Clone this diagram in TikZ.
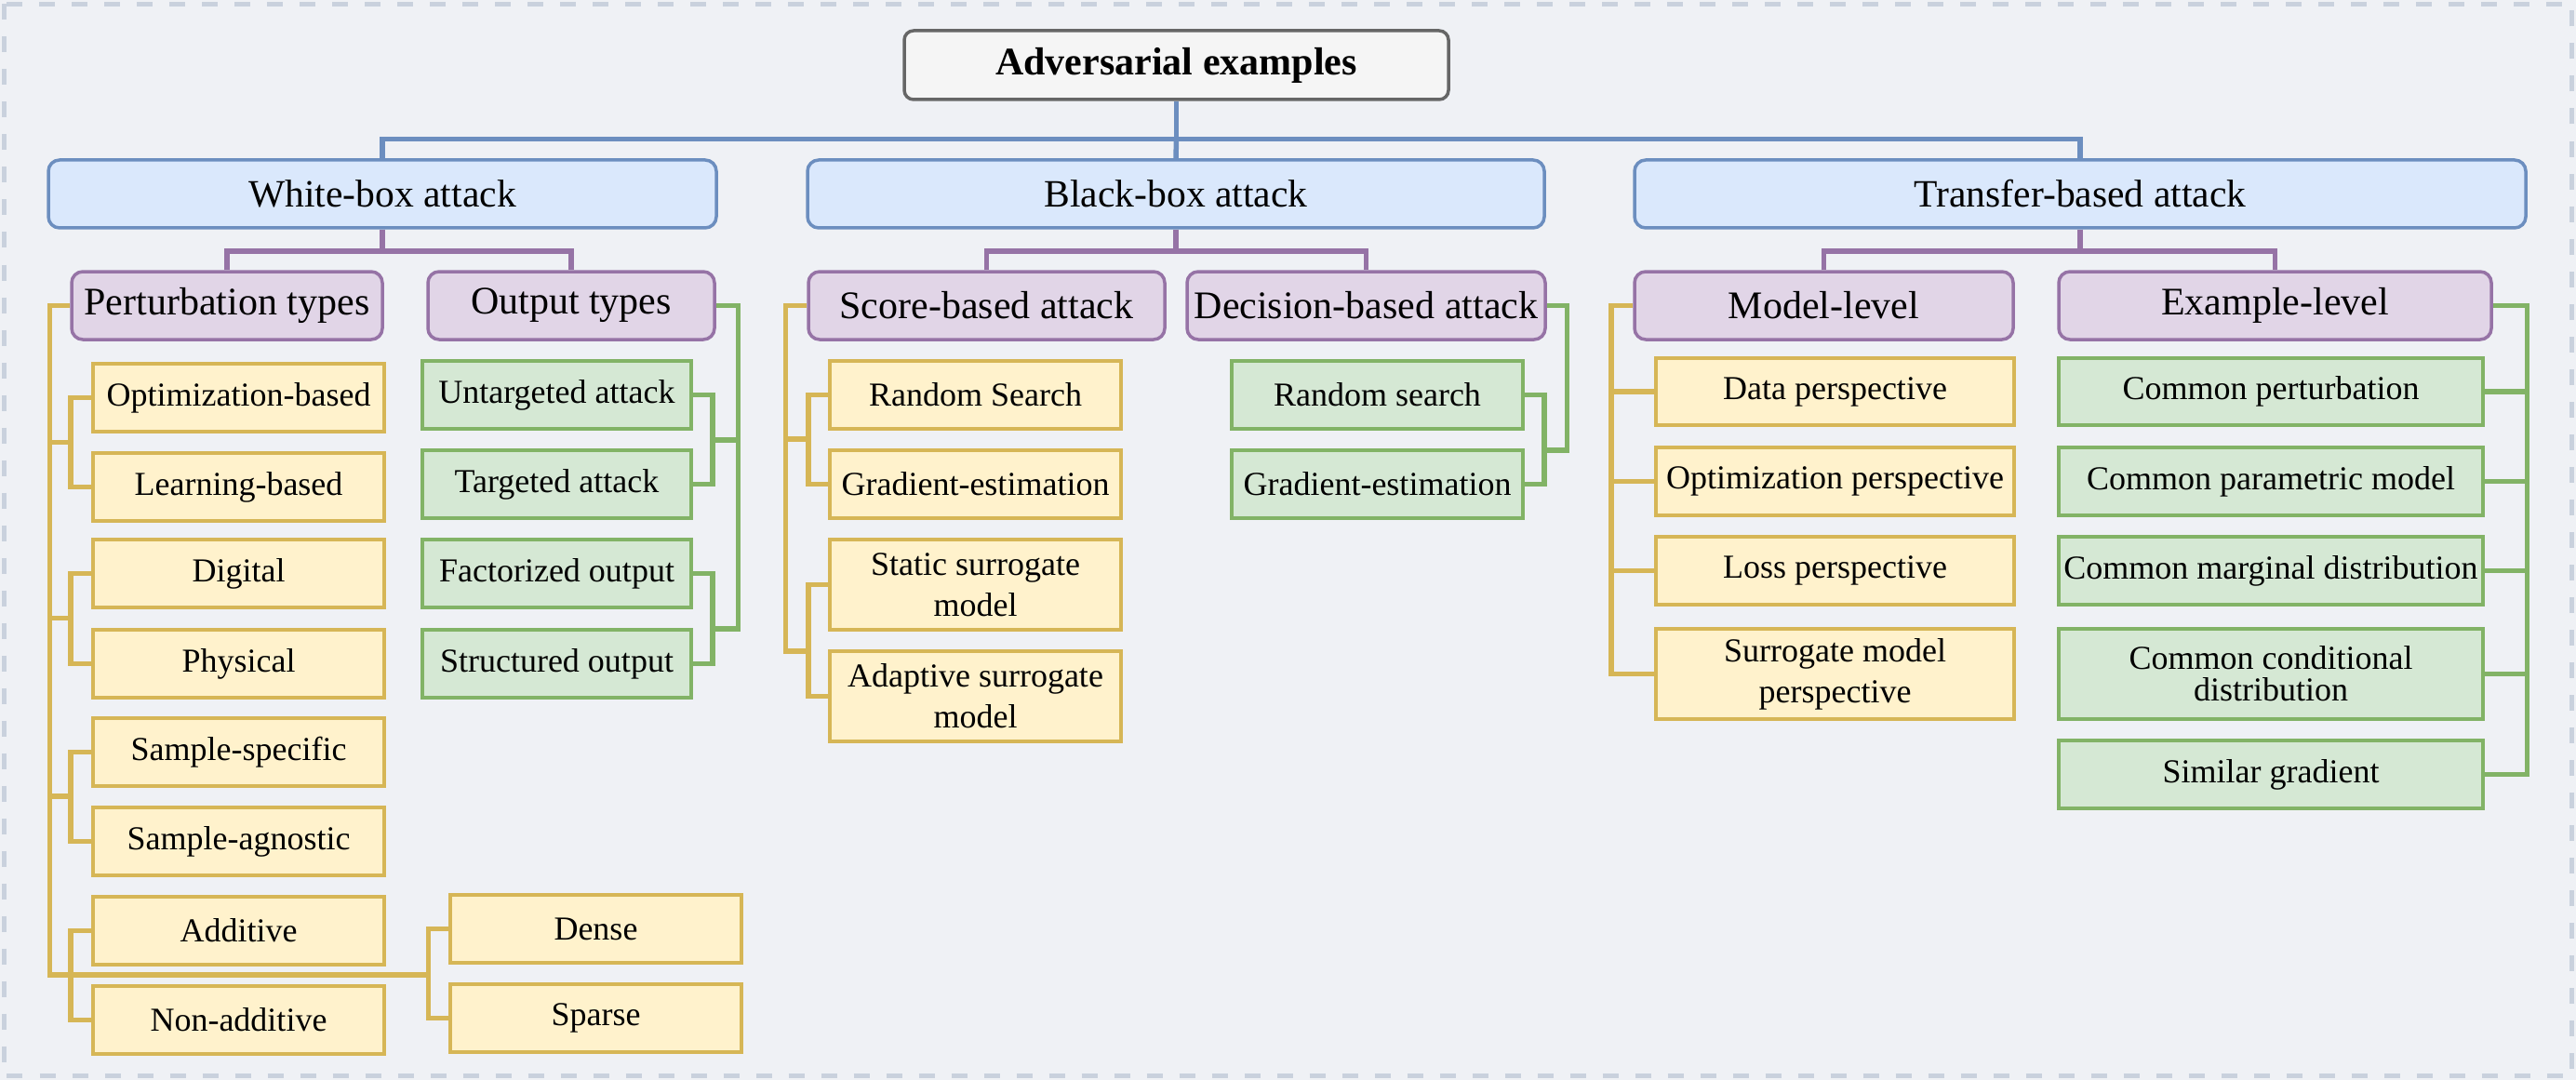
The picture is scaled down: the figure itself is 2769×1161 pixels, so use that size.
\documentclass[tikz,border=0pt]{standalone}
\usepackage{fontspec}
\setmainfont{Liberation Serif}
\usetikzlibrary{calc}
\definecolor{bgF}{HTML}{EFF1F5}
\definecolor{bgD}{HTML}{C9D1DD}
\definecolor{rootF}{HTML}{F5F5F5}
\definecolor{rootD}{HTML}{666666}
\definecolor{blueF}{HTML}{DAE8FC}
\definecolor{blueD}{HTML}{6C8EBF}
\definecolor{purpF}{HTML}{E1D5E7}
\definecolor{purpD}{HTML}{9673A6}
\definecolor{yelF}{HTML}{FFF2CC}
\definecolor{yelD}{HTML}{D6B656}
\definecolor{grnF}{HTML}{D5E8D4}
\definecolor{grnD}{HTML}{82B366}
\newcommand\placebox[7]{\node[#1, minimum width={#5-#3}, minimum height={#6-#4}] (#2) at ({(#3+#5)/2},{(#4+#6)/2}) {#7};}
\begin{document}
\begin{tikzpicture}[x=1pt,y=-1pt,
  basebox/.style={draw, line width=3.5pt, inner sep=0pt, align=center, text=black},
  rootbox/.style={basebox, fill=rootF, draw=rootD, rounded corners=10pt, font=\fontsize{42}{48}\selectfont\bfseries},
  bluebox/.style={basebox, fill=blueF, draw=blueD, rounded corners=12pt, font=\fontsize{41.6}{48}\selectfont},
  purpbox/.style={basebox, fill=purpF, draw=purpD, rounded corners=12pt, font=\fontsize{42}{48}\selectfont},
  ybox/.style={basebox, fill=yelF, draw=yelD, font=\fontsize{36}{44}\selectfont},
  gbox/.style={basebox, fill=grnF, draw=grnD, font=\fontsize{36}{44}\selectfont},
  bl/.style={draw=blueD, line width=5.5pt},
  pl/.style={draw=purpD, line width=5.5pt},
  yl/.style={draw=yelD, line width=5.5pt},
  gl/.style={draw=grnD, line width=5.5pt},
]
\useasboundingbox (0,0) rectangle (2769,1161);
\fill[bgF] (0,0) rectangle (2769,1161);
\draw[bgD, line width=4.5pt, dash pattern=on 17pt off 18pt] (4.5,4.5) rectangle (2764.5,1156.5);

% root and first level
\placebox{rootbox}{root}{972}{33}{1557}{107}{Adversarial examples}
\placebox{bluebox}{wb}{52}{172}{770}{245}{White-box attack}
\placebox{bluebox}{bb}{868}{172}{1660}{245}{Black-box attack}
\placebox{bluebox}{tb}{1757}{172}{2715}{245}{Transfer-based attack}

% second level
\placebox{purpbox}{pert}{77}{292}{411}{365}{Perturbation types}
\placebox{purpbox}{outp}{460}{292}{768}{365}{Output types}
\placebox{purpbox}{score}{869}{292}{1252}{365}{Score-based attack}
\placebox{purpbox}{dec}{1276}{292}{1661}{365}{Decision-based attack}
\placebox{purpbox}{model}{1757}{292}{2164}{365}{Model-level}
\placebox{purpbox}{ex}{2213}{292}{2678}{365}{Example-level}

% perturbation leaves
\placebox{ybox}{o1}{100}{391}{413}{464}{Optimization-based}
\placebox{ybox}{o2}{100}{487}{413}{560}{Learning-based}
\placebox{ybox}{o3}{100}{580}{413}{653}{Digital}
\placebox{ybox}{o4}{100}{677}{413}{750}{Physical}
\placebox{ybox}{o5}{100}{772}{413}{845}{Sample-specific}
\placebox{ybox}{o6}{100}{868}{413}{941}{Sample-agnostic}
\placebox{ybox}{o7}{100}{964}{413}{1037}{Additive}
\placebox{ybox}{o8}{100}{1060}{413}{1133}{Non-additive}
\placebox{ybox}{dense}{484}{962}{797}{1035}{Dense}
\placebox{ybox}{sparse}{484}{1058}{797}{1131}{Sparse}

% output leaves
\placebox{gbox}{u1}{454}{388}{743}{461}{Untargeted attack}
\placebox{gbox}{u2}{454}{484}{743}{557}{Targeted attack}
\placebox{gbox}{u3}{454}{580}{743}{653}{Factorized output}
\placebox{gbox}{u4}{454}{677}{743}{750}{Structured output}

% score leaves
\placebox{ybox}{s1}{892}{388}{1205}{461}{Random Search}
\placebox{ybox}{s2}{892}{484}{1205}{557}{Gradient-estimation}
\placebox{ybox}{s3}{892}{580}{1205}{677}{Static surrogate\\model}
\placebox{ybox}{s4}{892}{700}{1205}{797}{Adaptive surrogate\\model}

% decision leaves
\placebox{gbox}{d1}{1324}{388}{1637}{461}{Random search}
\placebox{gbox}{d2}{1324}{484}{1637}{557}{Gradient-estimation}

% model leaves
\placebox{ybox}{m1}{1780}{385}{2165}{457}{Data perspective}
\placebox{ybox}{m2}{1780}{481}{2165}{554}{Optimization perspective}
\placebox{ybox}{m3}{1780}{577}{2165}{650}{Loss perspective}
\placebox{ybox}{m4}{1780}{676}{2165}{773}{Surrogate model\\perspective}

% example leaves
\placebox{gbox}{e1}{2213}{385}{2669}{457}{Common perturbation}
\placebox{gbox}{e2}{2213}{481}{2669}{554}{Common parametric model}
\placebox{gbox}{e3}{2213}{577}{2669}{650}{Common marginal distribution}
\placebox{gbox,font=\fontsize{36}{34}\selectfont}{e4}{2213}{676}{2669}{773}{Common conditional\\distribution}
\placebox{gbox}{e5}{2213}{796}{2669}{869}{Similar gradient}

% ---- blue connectors
\coordinate (bh) at ($(root.south)+(0,41)$);
\draw[bl] (root.south) -- (bh);
\draw[bl] (wb.north) |- (bh) -| (tb.north);
\draw[bl] (bh) -- (bb.north);

% ---- purple connectors
\coordinate (wj) at ($(wb.south)+(0,23)$);
\draw[pl] (wb.south) -- (wj);
\draw[pl] (pert.north) |- (wj) -| (outp.north);
\coordinate (bj) at ($(bb.south)+(0,23)$);
\draw[pl] (bb.south) -- (bj);
\draw[pl] (score.north) |- (bj) -| (dec.north);
\coordinate (tj) at ($(tb.south)+(0,23)$);
\draw[pl] (tb.south) -- (tj);
\draw[pl] (model.north) |- (tj) -| (ex.north);

% ---- perturbation tree
\coordinate (pt) at (53.5,1048);
\coordinate (dsj) at (460.5,1048);
\coordinate (pj1) at (76,475.5);
\coordinate (pj2) at (76,664.5);
\coordinate (pj3) at (76,856);
\coordinate (pj4) at (76,1048);
\draw[yl] (pert.west) -| (pt) -- (dsj);
\draw[yl] (o1.west) -| (pj1) |- (o2.west);
\draw[yl] (pj1) -- (pj1 -| pt);
\draw[yl] (o3.west) -| (pj2) |- (o4.west);
\draw[yl] (pj2) -- (pj2 -| pt);
\draw[yl] (o5.west) -| (pj3) |- (o6.west);
\draw[yl] (pj3) -- (pj3 -| pt);
\draw[yl] (o7.west) -| (pj4) |- (o8.west);
\draw[yl] (dense.west) -| (dsj) |- (sparse.west);

% ---- output tree
\coordinate (ot) at (793.5,676);
\coordinate (oj1) at (766,473);
\coordinate (oj2) at (766,676);
\draw[gl] (outp.east) -| (ot) -- (oj2);
\draw[gl] (u1.east) -| (oj1) |- (u2.east);
\draw[gl] (oj1) -- (oj1 -| ot);
\draw[gl] (u3.east) -| (oj2) |- (u4.east);

% ---- score tree
\coordinate (st) at (844.5,700);
\coordinate (sj1) at (869,472);
\coordinate (sj2) at (869,700);
\draw[yl] (score.west) -| (st) -- (sj2);
\draw[yl] (s1.west) -| (sj1) |- (s2.west);
\draw[yl] (sj1) -- (sj1 -| st);
\draw[yl] (s3.west) -| (sj2) |- (s4.west);

% ---- decision tree
\coordinate (dt) at (1684.5,484);
\coordinate (dj) at (1660,484);
\draw[gl] (dec.east) -| (dt) -- (dj);
\draw[gl] (d1.east) -| (dj) |- (d2.east);

% ---- model tree
\coordinate (mt) at ($(m4.west)+(-46.5,0)$);
\draw[yl] (model.west) -| (mt) -- (m4.west);
\draw[yl] (m1.west) -- (m1.west -| mt);
\draw[yl] (m2.west) -- (m2.west -| mt);
\draw[yl] (m3.west) -- (m3.west -| mt);

% ---- example tree
\coordinate (et) at ($(e5.east)+(45.5,0)$);
\draw[gl] (ex.east) -| (et) -- (e5.east);
\draw[gl] (e1.east) -- (e1.east -| et);
\draw[gl] (e2.east) -- (e2.east -| et);
\draw[gl] (e3.east) -- (e3.east -| et);
\draw[gl] (e4.east) -- (e4.east -| et);
\end{tikzpicture}
\end{document}
